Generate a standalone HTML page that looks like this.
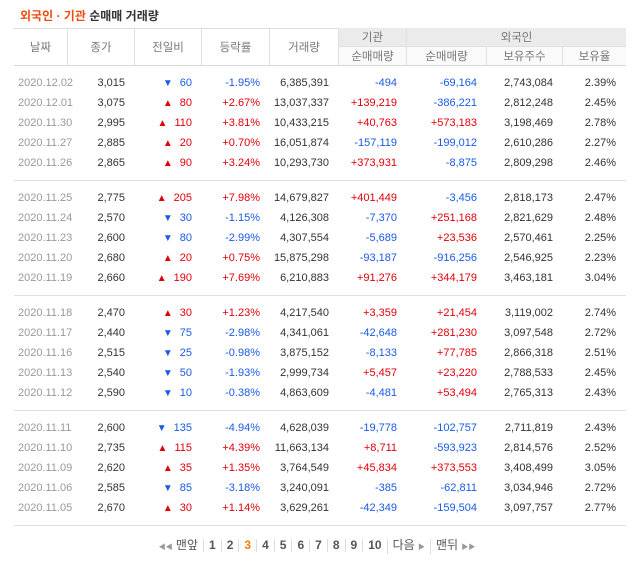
<!DOCTYPE html>
<html><head><meta charset="utf-8">
<style>
body{margin:0;width:634px;height:564px;background:#fff;position:relative;overflow:hidden;font-family:"Liberation Sans","Noto Sans CJK KR",sans-serif;}
.a{position:absolute;white-space:nowrap;}
.title{left:20px;top:7px;font-size:12px;font-weight:bold;color:#333;}
.title span{color:#f04b0e;}
.hd{position:absolute;color:#777;font-size:11.5px;text-align:center;border-left:1px solid #e0e0e0;box-sizing:border-box;display:flex;align-items:center;justify-content:center;}
.hline{position:absolute;left:14px;width:612px;height:1px;background:#e0e0e0;}
.c{position:absolute;font-size:11px;color:#333;white-space:nowrap;line-height:20px;height:20px;}
.r{text-align:right;}
.up{color:#e0000b;} .dn{color:#1a5ae6;}
.dt{color:#999;}
.tri{font-size:10px;margin-right:7px;}
.pg{position:absolute;top:538px;left:0;width:634px;text-align:center;font-size:12px;font-weight:bold;color:#555;}
.pg span{display:inline-block;padding:0 5px;border-left:1px solid #ddd;line-height:13px;}
.pg span.nb{border-left:none;}
</style></head><body>
<div class="a title"><span>외국인 · 기관</span> 순매매 거래량</div>
<div class="hline" style="top:28px;background:#ddd"></div>
<div id="tbl"></div>
<div class="pg">
<span class="nb" style="font-weight:normal"><small style="font-size:7px;color:#999">◀◀</small> 맨앞</span><span>1</span><span>2</span><span style="color:#f08000">3</span><span>4</span><span>5</span><span>6</span><span>7</span><span>8</span><span>9</span><span>10</span><span style="font-weight:normal">다음 <small style="font-size:7px;color:#999">▶</small></span><span style="font-weight:normal">맨뒤 <small style="font-size:7px;color:#999">▶▶</small></span>
</div>
<script>
const dates=["2020.12.02","2020.12.01","2020.11.30","2020.11.27","2020.11.26","2020.11.25","2020.11.24","2020.11.23","2020.11.20","2020.11.19","2020.11.18","2020.11.17","2020.11.16","2020.11.13","2020.11.12","2020.11.11","2020.11.10","2020.11.09","2020.11.06","2020.11.05"];
const closes=["3,015","3,075","2,995","2,885","2,865","2,775","2,570","2,600","2,680","2,660","2,470","2,440","2,515","2,540","2,590","2,600","2,735","2,620","2,585","2,670"];
const changes=[-60,80,110,20,90,205,-30,-80,20,190,30,-75,-25,-50,-10,-135,115,35,-85,30];
const rates=["-1.95%","+2.67%","+3.81%","+0.70%","+3.24%","+7.98%","-1.15%","-2.99%","+0.75%","+7.69%","+1.23%","-2.98%","-0.98%","-1.93%","-0.38%","-4.94%","+4.39%","+1.35%","-3.18%","+1.14%"];
const volumes=["6,385,391","13,037,337","10,433,215","16,051,874","10,293,730","14,679,827","4,126,308","4,307,554","15,875,298","6,210,883","4,217,540","4,341,061","3,875,152","2,999,734","4,863,609","4,628,039","11,663,134","3,764,549","3,240,091","3,629,261"];
const instNet=["-494","+139,219","+40,763","-157,119","+373,931","+401,449","-7,370","-5,689","-93,187","+91,276","+3,359","-42,648","-8,133","+5,457","-4,481","-19,778","+8,711","+45,834","-385","-42,349"];
const forNet=["-69,164","-386,221","+573,183","-199,012","-8,875","-3,456","+251,168","+23,536","-916,256","+344,179","+21,454","+281,230","+77,785","+23,220","+53,494","-102,757","-593,923","+373,553","-62,811","-159,504"];
const holdings=["2,743,084","2,812,248","3,198,469","2,610,286","2,809,298","2,818,173","2,821,629","2,570,461","2,546,925","3,463,181","3,119,002","3,097,548","2,866,318","2,788,533","2,765,313","2,711,819","2,814,576","3,408,499","3,034,946","3,097,757"];
const holdRates=["2.39%","2.45%","2.78%","2.27%","2.46%","2.47%","2.48%","2.25%","2.23%","3.04%","2.74%","2.72%","2.51%","2.45%","2.43%","2.43%","2.52%","3.05%","2.72%","2.77%"];

const T=document.getElementById('tbl');
function mk(cls,txt,style,name){const d=document.createElement('div');d.className=cls;d.innerHTML=txt;d.style.cssText=style;


T.appendChild(d);return d;}
const hs=[["날짜",14,67],["종가",67,134],["전일비",134,201],["등락률",201,269],["거래량",269,338]];
hs.forEach((h,i)=>mk('hd',h[0],`left:${h[1]}px;top:28px;width:${h[2]-h[1]}px;height:37px;${i==0?'border-left:none;':''}`,'header-'+i));
mk('hd','기관','left:338px;top:28px;width:68px;height:18px;background:#ebebeb;','header-institution');
mk('hd','외국인','left:406px;top:28px;width:220px;height:18px;background:#ebebeb;','header-foreign');
const h2=[["순매매량",338,406],["순매매량",406,486],["보유주수",486,562],["보유율",562,626]];
h2.forEach((h,i)=>mk('hd',h[0],`left:${h[1]}px;top:46px;width:${h[2]-h[1]}px;height:19px;border-top:1px solid #e0e0e0;background:#fafafa;`,'subheader-'+i));
for(let g=0;g<=4;g++){mk('hline','',`top:${65+g*115}px;${g==0?'background:#d8d8d8':''}`,'group-separator');}
const cls=s=>s[0]=='+'?'up':(s[0]=='-'?'dn':'');
const rightEdges=[125,192,260,329,397,477,553,616];
function R(x,w){return `left:${x-w}px;width:${w}px;`;}
dates.forEach((d,i)=>{
  const y=65+Math.floor(i/5)*115+8+(i%5)*20;
  const t=`top:${y}px;`;
  mk('c dt',d,t+'left:18px;','date-cell');
  mk('c r',closes[i],t+R(rightEdges[0],60),'close-cell');
  const c=changes[i];
  mk('c r '+(c>0?'up':'dn'),`<span class="tri">${c>0?'▲':'▼'}</span>${Math.abs(c)}`,t+R(rightEdges[1],60),'change-cell');
  mk('c r '+cls(rates[i]),rates[i],t+R(rightEdges[2],60),'rate-cell');
  mk('c r',volumes[i],t+R(rightEdges[3],64),'volume-cell');
  mk('c r '+cls(instNet[i]),instNet[i],t+R(rightEdges[4],64),'institution-net-cell');
  mk('c r '+cls(forNet[i]),forNet[i],t+R(rightEdges[5],76),'foreign-net-cell');
  mk('c r',holdings[i],t+R(rightEdges[6],72),'holdings-cell');
  mk('c r',holdRates[i],t+R(rightEdges[7],60),'holding-rate-cell');
});
</script>
</body></html>
